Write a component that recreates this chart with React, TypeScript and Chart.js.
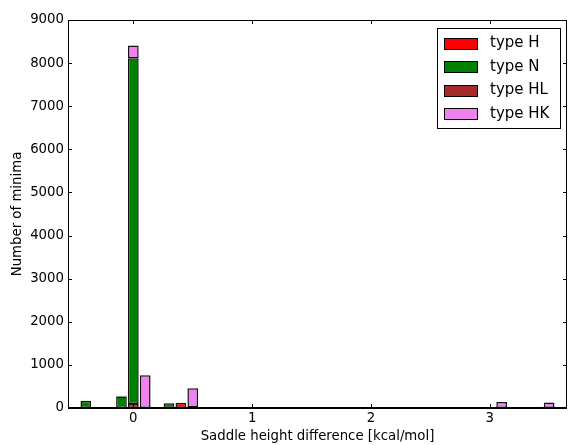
import React, { useEffect, useRef } from "react";
import { Chart, registerables } from "chart.js";

Chart.register(...registerables);

// Bin centres (kcal/mol) and counts of minima for each type
const typeHX = [0.0, 0.4];
const typeHCounts = [90, 120];

const typeNX = [-0.4, -0.1, 0.0, 0.3, 0.5];
const typeNCounts = [170, 265, 8020, 110, 20];

const typeHLX = [-0.1];
const typeHLCounts = [20];

const typeHKX = [0.0, 0.1, 0.5, 3.1, 3.5];
const typeHKCounts = [300, 760, 440, 140, 130];

const seriesNames = ["type H", "type N", "type HL", "type HK"];
const seriesColors = ["#ff0000", "#008000", "#a52a2a", "#ee82ee"];

const xTickValues = [0, 1, 2, 3];
const yMax = 9000;
const yStep = 1000;

const FONT = "'DejaVu Sans', sans-serif";
const FONT_SIZE = 13.3;

const toPoints = (xs: number[], ys: number[]) => xs.map((x, i) => ({ x, y: ys[i] }));

// Frame, inward ticks on all four sides, and the boxed legend
const framePlugin = {
  id: "frame",
  afterDraw(chart: any) {
    const { ctx, chartArea } = chart;
    const { left, right, top, bottom } = chartArea;
    const xs = chart.scales.x;
    const ys = chart.scales.y;
    ctx.save();
    ctx.strokeStyle = "#000";
    ctx.lineWidth = 1;
    ctx.strokeRect(left + 0.5, top + 0.5, right - left - 1, bottom - top - 1);
    // baseline under the bars
    ctx.lineWidth = 2;
    ctx.beginPath();
    ctx.moveTo(left, bottom);
    ctx.lineTo(right, bottom);
    ctx.stroke();

    ctx.lineWidth = 1;
    const tl = 4;
    ctx.beginPath();
    xTickValues.forEach((v) => {
      const px = Math.round(xs.getPixelForValue(v)) + 0.5;
      ctx.moveTo(px, bottom);
      ctx.lineTo(px, bottom - tl);
      ctx.moveTo(px, top);
      ctx.lineTo(px, top + tl);
    });
    ys.ticks.forEach((t: any) => {
      const py = Math.round(ys.getPixelForValue(t.value)) + 0.5;
      ctx.moveTo(left, py);
      ctx.lineTo(left + tl, py);
      ctx.moveTo(right, py);
      ctx.lineTo(right - tl, py);
    });
    ctx.stroke();

    // legend
    const bx = 437.5;
    const by = 28.5;
    const bw = 123;
    const bh = 100;
    ctx.fillStyle = "#fff";
    ctx.fillRect(bx, by, bw, bh);
    ctx.strokeStyle = "#000";
    ctx.strokeRect(bx, by, bw, bh);
    ctx.font = `15px ${FONT}`;
    ctx.textBaseline = "middle";
    ctx.textAlign = "left";
    seriesNames.forEach((name, i) => {
      const cy = 42.5 + i * 23.5;
      ctx.fillStyle = seriesColors[i];
      ctx.fillRect(444.5, Math.round(cy - 5) + 0.5, 33, 11);
      ctx.strokeStyle = "#000";
      ctx.strokeRect(444.5, Math.round(cy - 5) + 0.5, 33, 11);
      ctx.fillStyle = "#000";
      ctx.fillText(name, 490, cy + 1);
    });
    ctx.restore();
  },
};

export default function App() {
  const canvasRef = useRef<HTMLCanvasElement | null>(null);

  useEffect(() => {
    const canvas = canvasRef.current;
    if (!canvas) return;
    const seriesX = [typeHX, typeNX, typeHLX, typeHKX];
    const seriesY = [typeHCounts, typeNCounts, typeHLCounts, typeHKCounts];
    const chart = new Chart(canvas, {
      type: "bar",
      data: {
        datasets: seriesNames.map((name, i) => ({
          label: name,
          data: toPoints(seriesX[i], seriesY[i]),
          backgroundColor: seriesColors[i],
          borderColor: "#111",
          borderWidth: 1.5,
          borderSkipped: false,
          barPercentage: 0.9,
          categoryPercentage: 1,
        })),
      },
      options: {
        responsive: false,
        animation: false,
        devicePixelRatio: 1,
        layout: { padding: { top: 20, right: 1, left: 0, bottom: 0 } },
        plugins: { legend: { display: false }, tooltip: { enabled: false } },
        scales: {
          x: {
            type: "linear",
            stacked: true,
            offset: false,
            min: -0.55,
            max: 3.65,
            grid: { display: false, drawTicks: false },
            border: { display: false },
            ticks: {
              stepSize: 1,
              includeBounds: false,
              padding: 3,
              color: "#000",
              font: { family: FONT, size: FONT_SIZE },
              maxRotation: 0,
              callback: (v: any) => String(v),
            },
            title: {
              display: true,
              text: "Saddle height difference [kcal/mol]",
              color: "#000",
              font: { family: FONT, size: FONT_SIZE },
              padding: { top: 0, bottom: 0 },
            },
            afterFit: (scale: any) => {
              scale.height = 37;
            },
          },
          y: {
            stacked: true,
            min: 0,
            max: yMax,
            grid: { display: false, drawTicks: false },
            border: { display: false },
            ticks: {
              stepSize: yStep,
              padding: 4,
              color: "#000",
              font: { family: FONT, size: FONT_SIZE },
              callback: (v: any) => String(v),
            },
            title: {
              display: true,
              text: "Number of minima",
              color: "#000",
              font: { family: FONT, size: FONT_SIZE },
              padding: { top: 10, bottom: 0 },
            },
            afterFit: (scale: any) => {
              scale.width = 68;
            },
          },
        },
      },
      plugins: [framePlugin],
    });
    return () => chart.destroy();
  }, []);

  return (
    <div style={{ position: "absolute", left: 0, top: 0, width: 568, height: 445, background: "#fff" }}>
      <canvas ref={canvasRef} width={568} height={445} style={{ width: 568, height: 445 }} />
    </div>
  );
}
